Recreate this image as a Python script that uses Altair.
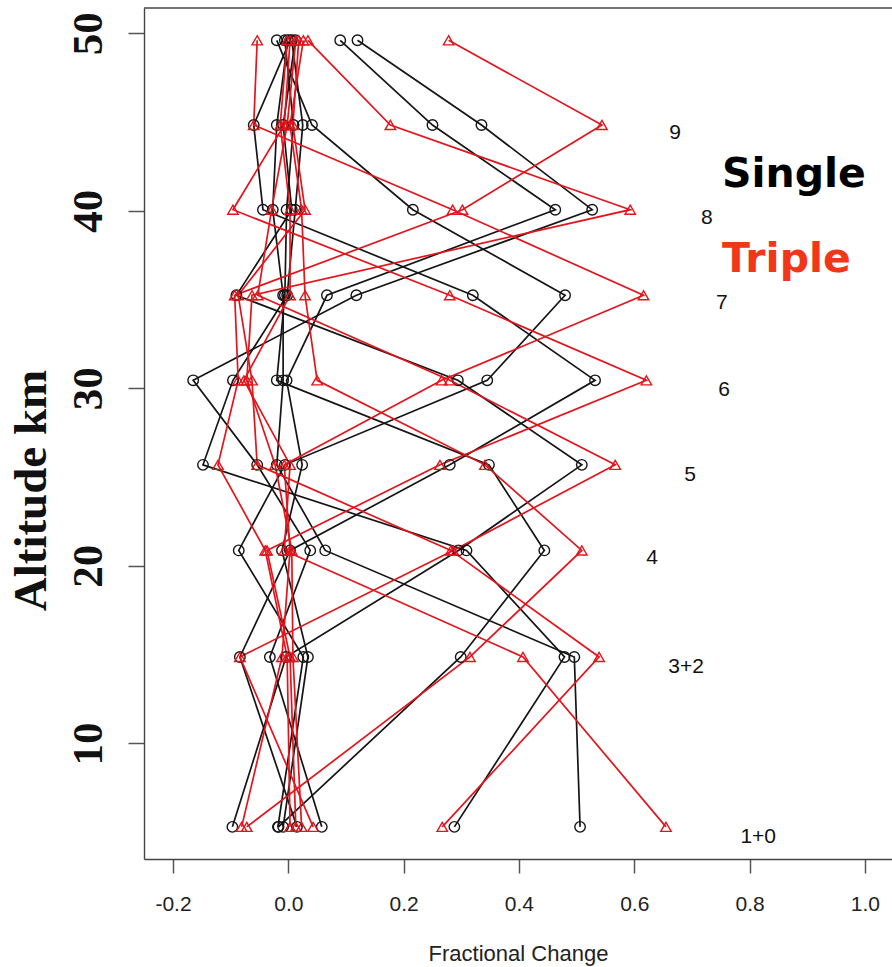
import altair as alt
import pandas as pd

# Altitude levels (km) at which the fractional change is plotted
altitudes = [49.6, 44.83, 40.06, 35.24, 30.45, 25.69, 20.87, 14.87, 5.30]

experiments = ["9", "8", "7", "6", "5", "4", "3+2", "1+0"]

# Single runs (black circles), values top -> bottom following altitudes
single_9 = [0.120, 0.335, 0.527, 0.118, -0.165, -0.054, 0.038, -0.032, 0.058]
single_8 = [0.090, 0.250, 0.463, 0.067, -0.003, 0.024, -0.011, 0.034, -0.009]
single_7 = [-0.020, 0.041, 0.216, 0.480, 0.345, -0.006, -0.086, 0.026, -0.018]
single_6 = [0.003, -0.060, -0.044, 0.320, 0.532, 0.280, 0.003, -0.084, 0.015]
single_5 = [0.012, -0.009, 0.006, -0.090, 0.294, 0.509, 0.295, -0.004, -0.097]
single_4 = [-0.006, 0.009, -0.003, -0.006, -0.020, 0.348, 0.444, 0.299, -0.017]
single_32 = [0.006, 0.025, 0.012, -0.002, -0.096, -0.148, 0.309, 0.479, 0.288]
single_10 = [-0.001, -0.020, -0.027, -0.009, -0.009, -0.020, 0.064, 0.496, 0.506]

# Triple runs (red triangles)
triple_9 = [0.278, 0.544, 0.302, -0.093, -0.087, -0.122, -0.040, -0.002, 0.003]
triple_8 = [0.034, 0.177, 0.593, -0.063, -0.072, -0.023, 0.006, 0.008, 0.023]
triple_7 = [-0.054, -0.060, 0.285, 0.616, 0.266, -0.007, 0.003, -0.011, -0.081]
triple_6 = [0.003, -0.007, -0.096, 0.280, 0.621, 0.263, -0.037, 0.003, 0.013]
triple_5 = [0.013, -0.002, -0.029, -0.053, 0.280, 0.567, 0.286, -0.084, 0.043]
triple_4 = [0.026, 0.003, 0.023, 0.029, 0.050, 0.341, 0.509, 0.315, -0.072]
triple_32 = [0.018, 0.008, 0.029, -0.087, -0.063, -0.054, 0.282, 0.539, 0.267]
triple_10 = [-0.002, -0.014, 0.003, 0.003, -0.077, 0.003, -0.007, 0.407, 0.655]

single_runs = [single_9, single_8, single_7, single_6, single_5, single_4, single_32, single_10]
triple_runs = [triple_9, triple_8, triple_7, triple_6, triple_5, triple_4, triple_32, triple_10]

# Experiment labels on the right
label_text = ["9", "8", "7", "6", "5", "4", "3+2", "1+0"]
label_x = [0.671, 0.726, 0.752, 0.756, 0.697, 0.631, 0.690, 0.815]
label_y = [44.39, 39.61, 34.82, 29.92, 25.13, 20.45, 14.31, 4.73]

legend_text = ["Single", "Triple"]
legend_x = [0.752, 0.752]
legend_y = [42.03, 37.24]

x_ticks = [-0.2, 0.0, 0.2, 0.4, 0.6, 0.8, 1.0]
y_ticks = [10, 20, 30, 40, 50]

rows = []
for run_name, runs in (("Single", single_runs), ("Triple", triple_runs)):
    for exp, vals in zip(experiments, runs):
        for i, (a, v) in enumerate(zip(altitudes, vals)):
            rows.append({"alt": a, "value": v, "run": run_name,
                         "series": run_name + "_" + exp, "idx": i})
df = pd.DataFrame(rows)

lab_df = pd.DataFrame({"label": label_text, "x": label_x, "y": label_y})
leg_df = pd.DataFrame({"label": legend_text, "x": legend_x, "y": legend_y})

W, H = 748, 851
xdom = [-0.2503, 1.047]
ydom = [3.49, 51.42]

color_scale = alt.Scale(domain=["Single", "Triple"], range=["#151515", "#E3141C"])
shape_scale = alt.Scale(domain=["Single", "Triple"], range=["circle", "triangle-up"])

x_enc = alt.X(
    "value:Q",
    scale=alt.Scale(domain=xdom, nice=False, zero=False),
    axis=alt.Axis(
        values=x_ticks,
        labelExpr="datum.value < 0 ? '-' + format(-datum.value, '.1f') : format(datum.value, '.1f')",
        title="Fractional Change", grid=False,
        labelFont="Liberation Sans", labelFontSize=21, labelColor="#222222",
        labelPadding=20, labelFlush=False, labelOverlap=False,
        tickSize=14, tickColor="#555555", tickWidth=1.5,
        domainColor="#444444", domainWidth=1.4,
        titleFont="Liberation Sans", titleFontSize=22, titleFontWeight="normal",
        titleColor="#222222", titlePadding=29,
    ),
)
y_enc = alt.Y(
    "alt:Q",
    scale=alt.Scale(domain=ydom, nice=False, zero=False),
    axis=alt.Axis(
        values=y_ticks, format="d", title="Altitude km", grid=False,
        labelFont="Liberation Serif", labelFontSize=43, labelFontWeight="bold",
        labelColor="#111111", labelAngle=270, labelAlign="center",
        labelBaseline="alphabetic", labelPadding=27, labelFlush=False,
        labelOverlap=False,
        tickSize=16, tickColor="#555555", tickWidth=1.5,
        domainColor="#444444", domainWidth=1.4,
        titleFont="Liberation Serif", titleFontSize=47, titleFontWeight="bold",
        titleColor="#111111", titleAngle=270, titleAlign="center",
        titleBaseline="alphabetic", titleX=-99, titleY=482,
    ),
)

lines = alt.Chart(df).mark_line(strokeWidth=1.7).encode(
    x=x_enc, y=y_enc,
    color=alt.Color("run:N", scale=color_scale, legend=None),
    detail="series:N",
    order="idx:Q",
)

points = alt.Chart(df).mark_point(filled=False, strokeWidth=1.4, size=110, opacity=1).encode(
    x=x_enc, y=y_enc,
    color=alt.Color("run:N", scale=color_scale, legend=None),
    shape=alt.Shape("run:N", scale=shape_scale, legend=None),
)

labels = alt.Chart(lab_df).mark_text(
    font="Liberation Sans", fontSize=21, color="#111111",
    align="center", baseline="middle",
).encode(x="x:Q", y="y:Q", text="label:N")

legend_texts = alt.Chart(leg_df).mark_text(
    font="DejaVu Sans", fontSize=41, fontWeight="bold",
    align="left", baseline="middle",
).encode(
    x="x:Q", y="y:Q", text="label:N",
    color=alt.Color("label:N", scale=alt.Scale(domain=["Single", "Triple"],
                                              range=["#000000", "#F2361A"]), legend=None),
)

top_border = alt.Chart(pd.DataFrame({"k": [0]})).mark_rule(
    color="#444444", strokeWidth=1.4
).encode(x=alt.value(0), x2=alt.value(W), y=alt.value(0))

chart = alt.layer(lines, points, labels, legend_texts, top_border).resolve_scale(
    color="independent"
).properties(
    width=W, height=H,
    autosize=alt.AutoSizeParams(type="none"),
    padding={"left": 144, "top": 8, "right": 0, "bottom": 108},
    background="white",
).configure_view(stroke=None)

chart.save("out.html", embed_options={"renderer": "svg", "actions": False})
